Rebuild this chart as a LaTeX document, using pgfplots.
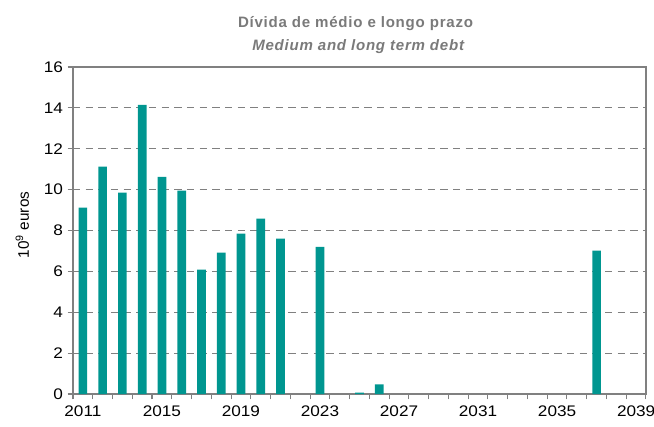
\documentclass[border=0pt]{standalone}
\usepackage{fontspec}
\setmainfont{Liberation Sans}
\newfontfamily\tickfont[FakeStretch=1.12]{Liberation Sans}
\newfontfamily\titlefont[LetterSpace=5]{Liberation Sans}
\usepackage{pgfplots}
\pgfplotsset{compat=1.18}
\definecolor{barteal}{RGB}{0,150,144}
\definecolor{axgray}{RGB}{128,128,128}
\definecolor{titlegray}{RGB}{122,122,122}
\begin{document}
\begin{tikzpicture}
\begin{axis}[
  name=main,
  scale only axis,
  width=429.75pt, height=245.25pt,
  xmin=2010.5, xmax=2039.5,
  ymin=0, ymax=16,
  ytick={0,2,...,16},
  xtick={2011,2015,...,2039},
  minor xtick={2010.5,2011.5,...,2039.5},
  major x tick style={draw=none},
  tick align=outside,
  major tick length=4pt,
  minor tick length=4pt,
  xtick pos=bottom, ytick pos=left,
  tick style={axgray, line width=0.8pt},
  axis line style={axgray, line width=0.9pt},
  ymajorgrids,
  grid style={dashed, axgray, line width=0.7pt, dash pattern=on 5.5pt off 4pt},
  /pgf/number format/assume math mode=true,
  xticklabel style={font=\tickfont\fontsize{11.5}{12}\selectfont, yshift=-1pt},
  yticklabel style={font=\tickfont\fontsize{11.5}{12}\selectfont},
  xticklabel={\pgfmathprintnumber[fixed,1000 sep={}]{\tick}},
  ylabel={10\textsuperscript{9} euros},
  ylabel style={at={(axis description cs:-0.0884,0.517)}, anchor=center, font=\fontsize{11.5}{12}\selectfont},
  ybar, bar width=0.44,
]
\addplot[fill=barteal, draw=none] coordinates {
(2011,9.12) (2012,11.13) (2013,9.85) (2014,14.15) (2015,10.63) (2016,9.95)
(2017,6.08) (2018,6.92) (2019,7.85) (2020,8.58) (2021,7.6) (2023,7.2)
(2025,0.07) (2026,0.47) (2037,7.01)
};
\end{axis}
\node[anchor=base, font=\titlefont\bfseries\fontsize{11.3}{12}\selectfont, text=titlegray] at ([xshift=-3pt,yshift=30pt]main.north) {Dívida de médio e longo prazo};
\node[anchor=base, font=\titlefont\bfseries\itshape\fontsize{11.3}{12}\selectfont, text=titlegray] at ([xshift=-1pt,yshift=12.5pt]main.north) {Medium and long term debt};
\pgfresetboundingbox
\path[use as bounding box] ([xshift=-54.75pt,yshift=-24pt]main.south west) rectangle ([xshift=6pt,yshift=50.25pt]main.north east);
\end{tikzpicture}
\end{document}
